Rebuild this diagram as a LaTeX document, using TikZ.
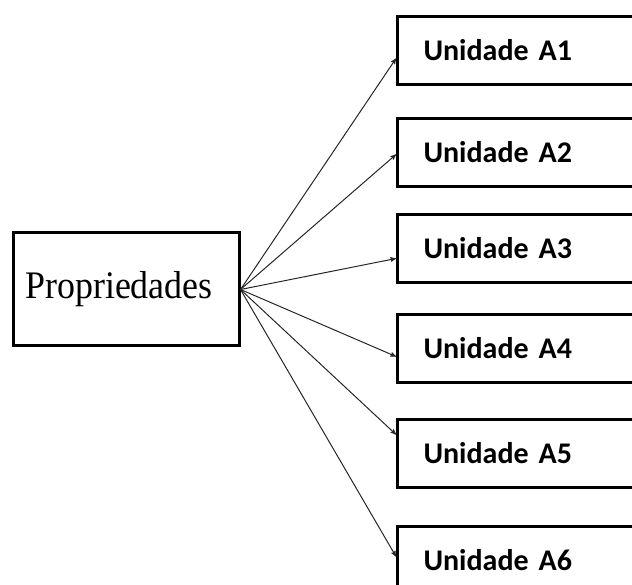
\documentclass[tikz,border=0pt]{standalone}
\usepackage{fontspec}
\setmainfont{Liberation Serif}
\newfontfamily\unitfont{Carlito}
\usetikzlibrary{arrows, positioning}
\tikzset{
>=stealth', % small bold arrow heads
prop/.style={draw, line width=3pt, minimum width=226pt, minimum height=113pt, font=\fontsize{39}{42}\selectfont}, % the box on the left
unit/.style={draw, line width=3pt, anchor=north west, minimum height=68pt, text width=214pt, inner xsep=26pt, align=left, font=\unitfont\bfseries\fontsize{30}{33}\selectfont}, % boxes on the right
link/.style={->, line width=1pt, black!85}, % the arrows
}

\begin{document}
\begin{tikzpicture}[x=1pt, y=-1pt]
    \useasboundingbox (0,0) rectangle (632,585);
    \clip (0,0) rectangle (632,585);
    \node[prop] (prop) at (126,289.5) {\hspace*{-14pt}\scalebox{0.92}[1]{Propriedades}};
    \foreach \i/\top/\dy in {1/15/-8, 2/117/-2, 3/213/-10, 4/313/-8, 5/418/19, 6/525/4}
    {
        \node[unit] (u\i) at (396,\top) {Unidade A\i};
        \draw[link] (prop.east) -- ([yshift=\dy pt]u\i.west);
    }
\end{tikzpicture}
\end{document}
